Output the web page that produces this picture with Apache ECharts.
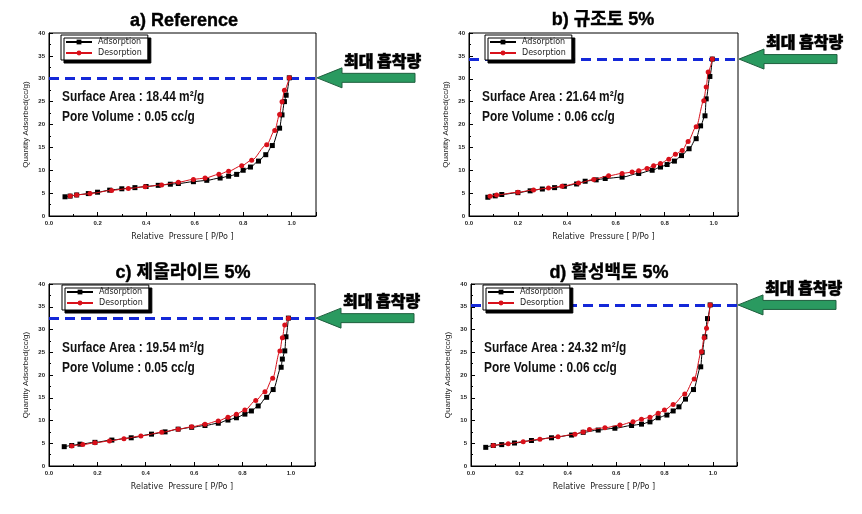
<!DOCTYPE html>
<html><head><meta charset="utf-8">
<script src="https://cdn.jsdelivr.net/npm/echarts@6/dist/echarts.min.js"></script>
<style>html,body{margin:0;padding:0;background:#fff}#c{width:862px;height:514px}</style>
</head><body><div id="c"></div>
<script>
// ---- data ----
const titles = ['a) Reference', 'b) 규조토 5%', 'c) 제올라이트 5%', 'd) 활성백토 5%'];
const surfaceArea = ['18.44', '21.64', '19.54', '24.32'];
const poreVolume = ['0.05', '0.06', '0.05', '0.06'];
const calloutText = '최대 흡착량';
const seriesNames = ['Adsorption', 'Desorption'];
const xTicks = [0.0, 0.2, 0.4, 0.6, 0.8, 1.0];
const yTicks = [0, 5, 10, 15, 20, 25, 30, 35, 40];

const adsXA = [0.066,0.087,0.114,0.162,0.2,0.25,0.3,0.354,0.4,0.45,0.5,0.533,0.595,0.65,0.705,0.74,0.773,0.80,0.83,0.863,0.893,0.92,0.95,0.96,0.97,0.977,0.99];
const adsYA = [4.2,4.35,4.6,4.9,5.2,5.65,5.95,6.2,6.45,6.7,6.95,7.1,7.5,7.8,8.3,8.7,9.1,10.0,10.7,12.0,13.4,15.4,19.2,22.1,25.0,26.4,30.2];
const desXA = [0.087,0.114,0.169,0.258,0.327,0.396,0.464,0.533,0.595,0.643,0.70,0.74,0.794,0.835,0.897,0.93,0.95,0.96,0.97,0.99];
const desYA = [4.35,4.6,4.9,5.6,6.0,6.4,6.8,7.4,8.0,8.3,9.1,9.8,11.0,12.2,15.6,18.7,22.2,25.0,27.5,30.2];

const adsXB = [0.077,0.107,0.134,0.2,0.25,0.3,0.35,0.39,0.44,0.475,0.52,0.557,0.626,0.694,0.749,0.783,0.81,0.84,0.869,0.9,0.929,0.947,0.965,0.97,0.985,0.995];
const adsYB = [4.1,4.4,4.7,5.1,5.5,5.9,6.2,6.5,7.0,7.6,7.9,8.2,8.5,9.3,10.0,10.7,11.25,12.0,13.2,14.7,16.9,19.7,21.9,25.6,30.5,34.3];
const desXB = [0.086,0.113,0.2,0.264,0.325,0.38,0.448,0.51,0.571,0.626,0.667,0.694,0.728,0.755,0.783,0.817,0.844,0.872,0.896,0.929,0.96,0.97,0.978,0.995];
const desYB = [4.3,4.6,5.2,5.7,6.1,6.5,7.2,8.0,8.8,9.3,9.6,9.9,10.4,11.0,11.5,12.4,13.5,14.3,16.3,19.5,25.2,28.2,31.5,34.3];

const adsXC = [0.063,0.094,0.128,0.19,0.26,0.34,0.424,0.48,0.534,0.59,0.645,0.70,0.74,0.775,0.81,0.837,0.865,0.9,0.927,0.96,0.965,0.975,0.98,0.99];
const adsYC = [4.25,4.5,4.8,5.2,5.7,6.2,7.0,7.5,8.1,8.5,8.9,9.4,10.1,10.6,11.4,12.1,13.2,15.1,16.8,21.7,23.5,25.3,28.4,32.5];
const desXC = [0.094,0.14,0.19,0.25,0.31,0.38,0.466,0.534,0.59,0.645,0.70,0.74,0.775,0.81,0.855,0.893,0.925,0.955,0.965,0.975,0.99];
const desYC = [4.4,4.7,5.1,5.5,6.0,6.6,7.4,8.1,8.6,9.2,9.9,10.7,11.4,12.3,14.4,16.3,19.3,25.3,28.2,31.0,32.5];

const adsXD = [0.061,0.092,0.127,0.18,0.25,0.333,0.416,0.464,0.526,0.595,0.664,0.705,0.74,0.774,0.81,0.836,0.86,0.887,0.92,0.95,0.956,0.967,0.978,0.989];
const adsYD = [4.1,4.5,4.7,5.05,5.6,6.2,6.8,7.4,7.9,8.3,8.9,9.2,9.7,10.6,11.2,12.1,13.0,14.7,16.8,21.8,25.0,28.4,32.4,35.4];
const desXD = [0.092,0.154,0.216,0.285,0.36,0.43,0.464,0.49,0.554,0.616,0.67,0.705,0.74,0.774,0.80,0.836,0.884,0.923,0.953,0.964,0.974,0.989];
const desYD = [4.5,4.9,5.35,5.9,6.45,7.0,7.5,8.0,8.4,9.0,9.7,10.3,10.7,11.6,12.3,13.5,15.8,19.1,25.1,28.2,30.3,35.4];

const panels = [
  {ax: adsXA, ay: adsYA, dx: desXA, dy: desYA},
  {ax: adsXB, ay: adsYB, dx: desXB, dy: desYB},
  {ax: adsXC, ay: adsYC, dx: desXC, dy: desYC},
  {ax: adsXD, ay: adsYD, dx: desXD, dy: desYD}
];

// ---- layout ----
const grids = [
  {left: 49, top: 33, width: 267, height: 183},
  {left: 469, top: 33, width: 269, height: 183},
  {left: 49, top: 284, width: 266, height: 182},
  {left: 471, top: 284, width: 266, height: 182}
];
const legendPos = [{left: 61, top: 35}, {left: 485, top: 35}, {left: 62, top: 285}, {left: 483, top: 285}];
const titlePos = [[184, 21], [603, 20], [183, 273], [609, 273]];
const pair = (xs, ys) => xs.map((x, i) => [x, ys[i]]);

const chart = echarts.init(document.getElementById('c'), null, {renderer: 'canvas'});
const option = {
  backgroundColor: '#fff',
  animation: false,
  grid: grids.map(g => Object.assign({show: true, borderColor: '#000', borderWidth: 1, backgroundColor: 'transparent', containLabel: false}, g)),
  legend: legendPos.map(p => ({
    left: p.left, top: p.top, orient: 'vertical', data: seriesNames, z: 20,
    itemWidth: 26, itemHeight: 6, itemGap: 3, padding: [3, 6, 3, 4],
    backgroundColor: '#fff', borderColor: '#000', borderWidth: 1,
    shadowColor: '#000', shadowOffsetX: 3, shadowOffsetY: 3, shadowBlur: 0,
    textStyle: {fontSize: 8, fontFamily: 'DejaVu Sans', color: '#222', padding: [0, 0, 0, 1]},
    selectedMode: false
  })),
  xAxis: grids.map((g, i) => ({
    gridIndex: i, type: 'value', min: 0, max: 1.1, interval: 0.2,
    name: 'Relative  Pressure [ P/Po ]', nameLocation: 'middle', nameGap: 17,
    nameTextStyle: {fontSize: 8, fontFamily: 'DejaVu Sans', color: '#222'},
    axisLine: {show: true, lineStyle: {color: '#000', width: 1}},
    axisTick: {show: true, inside: true, length: 4, lineStyle: {color: '#000'}},
    minorTick: {show: true, splitNumber: 2, length: 2, lineStyle: {color: '#000'}},
    splitLine: {show: false},
    axisLabel: {fontSize: 6, fontWeight: 'bold', color: '#222', margin: 4, showMaxLabel: false,
      formatter: v => xTicks.some(t => Math.abs(t - v) < 1e-6) ? v.toFixed(1) : ''}
  })),
  yAxis: grids.map((g, i) => ({
    gridIndex: i, type: 'value', min: 0, max: 40, interval: 5,
    name: 'Quantity Adsorbed(cc/g)', nameLocation: 'middle', nameGap: 19, nameRotate: 90,
    nameTextStyle: {fontSize: 8, fontFamily: 'Liberation Sans', color: '#222'},
    axisLine: {show: true, lineStyle: {color: '#000', width: 1}},
    axisTick: {show: true, inside: true, length: 4, lineStyle: {color: '#000'}},
    minorTick: {show: true, splitNumber: 2, length: 2, lineStyle: {color: '#000'}},
    splitLine: {show: false},
    axisLabel: {fontSize: 6, fontWeight: 'bold', color: '#222', margin: 4,
      formatter: v => yTicks.indexOf(v) >= 0 ? String(v) : ''}
  })),
  series: []
};
panels.forEach((p, i) => {
  option.series.push({
    name: seriesNames[0], type: 'line', xAxisIndex: i, yAxisIndex: i,
    data: pair(p.ax, p.ay), smooth: 0.3, smoothMonotone: 'x',
    symbol: 'rect', symbolSize: 5, z: 3,
    lineStyle: {color: '#000', width: 1}, itemStyle: {color: '#000'},
    markLine: {silent: true, symbol: 'none', label: {show: false}, z: 1,
      lineStyle: {color: '#1428d8', width: 3, type: [10, 6]},
      data: [{type: 'max', valueDim: 'y'}]}
  });
  option.series.push({
    name: seriesNames[1], type: 'line', xAxisIndex: i, yAxisIndex: i,
    data: pair(p.dx, p.dy), smooth: 0.3, smoothMonotone: 'x',
    symbol: 'circle', symbolSize: 5, z: 4,
    lineStyle: {color: '#d8101a', width: 1}, itemStyle: {color: '#d8101a'}
  });
});
chart.setOption(option);

// ---- annotations (positions derived from axes) ----
const graphics = [];
panels.forEach((p, i) => {
  const g = grids[i];
  graphics.push({type: 'text', x: titlePos[i][0], y: titlePos[i][1], z: 10,
    style: {text: titles[i], fontSize: 18, fontWeight: 'bold', fontFamily: 'Liberation Sans, Noto Sans CJK KR',
      fill: '#000', align: 'center', verticalAlign: 'middle', stroke: '#000', lineWidth: 0.4}});
  graphics.push({type: 'text', x: g.left + 13, y: g.top + 64, z: 10, scaleX: 0.85,
    style: {text: 'Surface Area : ' + surfaceArea[i] + ' m²/g', fontSize: 14, fontWeight: 'bold',
      fontFamily: 'Liberation Sans', fill: '#111', verticalAlign: 'middle'}});
  graphics.push({type: 'text', x: g.left + 13, y: g.top + 84, z: 10, scaleX: 0.85,
    style: {text: 'Pore Volume : ' + poreVolume[i] + ' cc/g', fontSize: 14, fontWeight: 'bold',
      fontFamily: 'Liberation Sans', fill: '#111', verticalAlign: 'middle'}});
  const peak = Math.max.apply(null, p.ay);
  const pt = chart.convertToPixel({gridIndex: i}, [1.1, peak]);
  const tx = pt[0] + 1, ty = pt[1];
  graphics.push({type: 'polygon', z: 10,
    shape: {points: [[tx, ty], [tx + 25, ty - 10], [tx + 25, ty - 4.5], [tx + 98, ty - 4.5],
      [tx + 98, ty + 4.5], [tx + 25, ty + 4.5], [tx + 25, ty + 10]]},
    style: {fill: '#2a9a60', stroke: '#1f5f3e', lineWidth: 1}});
  graphics.push({type: 'text', x: tx + 27, y: ty - 17, z: 10,
    style: {text: calloutText, fontSize: 16, fontWeight: 900, fontFamily: 'Noto Sans CJK KR',
      fill: '#000', verticalAlign: 'middle', stroke: '#000', lineWidth: 0.5}});
});
chart.setOption({graphic: graphics});
</script>
</body></html>
